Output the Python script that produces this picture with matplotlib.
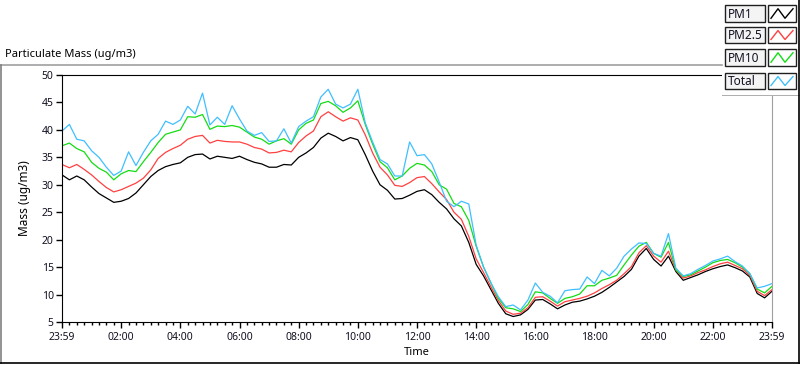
import numpy as np
import matplotlib
matplotlib.use('Agg')
from matplotlib import pyplot as plt
from matplotlib.patches import Rectangle
from matplotlib.lines import Line2D
from matplotlib.ticker import MultipleLocator

plt.rcParams['font.family'] = ['Noto Sans', 'DejaVu Sans']

series_names = ['PM1', 'PM2.5', 'PM10', 'Total']
series_colors = ['#000000', '#FF4040', '#14DC14', '#3FBFFF']

# 15 minute samples from 23:59 to 23:59 next day
hours = np.linspace(0, 24, 97)
tick_hours = [0, 2, 4, 6, 8, 10, 12, 14, 16, 18, 20, 22, 24]
tick_labels = ['23:59', '02:00', '04:00', '06:00', '08:00', '10:00', '12:00',
               '14:00', '16:00', '18:00', '20:00', '22:00', '23:59']
y_ticks = [5, 10, 15, 20, 25, 30, 35, 40, 45, 50]

pm1 = [31.8, 30.9, 31.6, 30.9, 29.6, 28.4, 27.6, 26.8, 27.0, 27.5,
       28.5, 30.0, 31.5, 32.6, 33.3, 33.7, 34.0, 35.0, 35.5, 35.6,
       34.7, 35.2, 35.0, 34.8, 35.2, 34.6, 34.1, 33.8, 33.2, 33.2,
       33.7, 33.6, 35.0, 35.8, 36.8, 38.5, 39.4, 38.8, 38.0, 38.6,
       38.2, 35.5, 32.5, 30.0, 29.0, 27.4, 27.5, 28.1, 28.8, 29.1,
       28.2, 26.8, 25.6, 23.8, 22.5, 19.5, 15.5, 13.4, 10.9, 8.4,
       6.5, 6.0, 6.3, 7.3, 9.0, 9.1, 8.3, 7.4, 8.1, 8.6,
       8.8, 9.2, 9.7, 10.4, 11.3, 12.3, 13.3, 14.6, 17.0, 18.4,
       16.4, 15.2, 17.0, 14.2, 12.6, 13.1, 13.6, 14.2, 14.7, 15.1,
       15.4, 14.9, 14.3, 13.2, 10.2, 9.4, 10.6]

pm25 = [33.7, 33.1, 33.7, 32.8, 31.8, 30.6, 29.5, 28.7, 29.1, 29.7,
        30.3, 31.2, 32.7, 34.8, 35.9, 36.6, 37.2, 38.3, 38.8, 39.0,
        37.6, 38.1, 37.9, 37.8, 37.8, 37.4, 36.8, 36.5, 35.8, 35.9,
        36.3, 36.0, 37.7, 38.9, 39.8, 42.4, 43.3, 42.4, 41.6, 42.2,
        41.8, 39.1, 35.8, 33.2, 31.8, 29.9, 29.7, 30.4, 31.3, 31.5,
        30.2, 28.7, 27.3, 25.0, 23.7, 20.6, 16.5, 14.0, 11.4, 8.9,
        7.0, 6.4, 6.6, 7.6, 9.5, 9.6, 8.8, 7.9, 8.7, 9.0,
        9.3, 9.7, 10.3, 11.1, 11.8, 12.6, 13.8, 15.1, 17.6, 18.9,
        17.0, 15.9, 17.9, 14.5, 13.0, 13.4, 14.0, 14.5, 15.1, 15.6,
        15.9, 15.3, 14.7, 13.5, 10.6, 9.8, 10.9]

pm10 = [37.1, 37.6, 36.6, 36.0, 34.1, 33.0, 32.3, 30.9, 32.0, 32.6,
        32.4, 34.2, 35.9, 37.7, 39.2, 39.6, 40.0, 42.4, 42.3, 42.8,
        40.1, 40.7, 40.6, 40.8, 40.5, 39.6, 38.7, 38.3, 37.4, 38.0,
        38.4, 37.4, 40.0, 41.2, 41.8, 44.8, 45.2, 44.4, 43.2, 44.0,
        45.3, 41.0, 37.4, 34.2, 33.1, 30.9, 31.6, 33.0, 33.9, 33.6,
        32.4, 30.0, 29.2, 26.6, 26.0, 23.5, 18.8, 15.0, 12.1, 9.3,
        7.6, 7.4, 6.9, 8.2, 10.5, 10.3, 9.3, 8.4, 9.3, 9.6,
        10.1, 11.6, 11.6, 12.6, 13.0, 13.5, 15.4, 17.2, 18.8, 19.5,
        17.5, 16.8, 19.5, 14.5, 13.3, 13.6, 14.3, 15.0, 15.8, 16.2,
        16.4, 15.8, 15.0, 13.8, 11.0, 10.3, 11.5]

total = [39.8, 41.0, 38.3, 38.0, 36.2, 35.0, 33.2, 31.7, 32.5, 36.0,
         33.5, 35.9, 38.0, 39.2, 41.6, 41.0, 41.8, 44.3, 42.9, 46.7,
         40.9, 42.3, 41.0, 44.4, 42.0, 39.8, 39.0, 39.5, 37.9, 38.0,
         40.2, 37.6, 40.6, 41.6, 42.4, 46.0, 47.4, 44.7, 44.0, 44.7,
         47.4, 41.3, 37.8, 34.6, 33.8, 31.6, 31.6, 37.8, 35.3, 35.5,
         33.8, 30.5, 27.0, 26.0, 27.0, 26.5, 19.0, 15.0, 12.1, 9.6,
         7.8, 8.1, 7.2, 9.0, 12.1, 10.4, 9.7, 8.5, 10.7, 10.9,
         11.0, 13.2, 12.0, 14.4, 13.4, 14.8, 17.0, 18.3, 19.4, 19.3,
         17.5, 17.0, 21.1, 14.8, 13.4, 13.8, 14.6, 15.3, 16.1, 16.5,
         17.0, 16.0, 15.2, 13.8, 11.2, 11.5, 12.0]

W, H = 800, 365
fig = plt.figure(figsize=(W / 100, H / 100), dpi=100)
fig.patch.set_facecolor('white')


def px_box(x0, y0, x1, y1):
    return [x0 / W, 1 - y1 / H, (x1 - x0) / W, (y1 - y0) / H]


def fig_line(x0, y0, x1, y1, color):
    fig.add_artist(Line2D([x0 / W, x1 / W], [1 - y0 / H, 1 - y1 / H],
                          color=color, lw=1.2))


ax = fig.add_axes(px_box(62, 75, 772, 322))
for vals, name, col in zip([pm1, pm25, pm10, total], series_names, series_colors):
    ax.plot(hours, vals, color=col, lw=0.9, label=name)

ax.set_xlim(0, 24)
ax.set_ylim(5, 50)
ax.set_xticks(tick_hours)
ax.set_xticklabels(tick_labels)
ax.xaxis.set_minor_locator(MultipleLocator(0.25))
ax.set_yticks(y_ticks)
ax.tick_params(axis='both', which='major', length=4, width=1, labelsize=7.5,
               pad=2, color='black', labelcolor='#111122')
ax.tick_params(axis='x', which='minor', length=2.5, width=1, color='black')
ax.tick_params(axis='x', which='major', pad=3)
for side in ['left', 'top', 'bottom']:
    ax.spines[side].set_color('black')
ax.spines['right'].set_color('#a0a0a0')

ax.set_xlabel('Time', fontsize=8, labelpad=3)
ax.set_ylabel('Mass (ug/m3)', fontsize=8.5)
ax.yaxis.set_label_coords(-0.044, 0.5)

fig.text(5 / W, 1 - 54 / H, 'Particulate Mass (ug/m3)', fontsize=8,
         va='center', ha='left')

# outer frame
fig_line(0, 64.5, 722, 64.5, '#a0a0a0')
fig_line(0.6, 64.5, 0.6, 363, '#808080')
fig_line(0, 363, 800, 363, 'black')
fig_line(798.5, 0, 798.5, 363, 'black')

# legend panel
lax = fig.add_axes(px_box(722, 0, 800, 96))
lax.set_xlim(722, 800)
lax.set_ylim(96, 0)
lax.set_xticks([])
lax.set_yticks([])
for s in lax.spines.values():
    s.set_visible(False)
lax.patch.set_facecolor('white')
lax.plot([722, 800], [95.5, 95.5], color='#a0a0a0', lw=1.2)
lax.plot([772, 772], [95.5, 96], color='#a0a0a0', lw=1.2)

rows = [(5, 22), (27, 43), (49, 66), (73, 89)]
for (y0, y1), name, col in zip(rows, series_names, series_colors):
    lax.add_patch(Rectangle((725, y0), 40, y1 - y0, facecolor='#f4f4f4',
                            edgecolor='#202020', lw=1))
    lax.add_patch(Rectangle((768, y0), 28, y1 - y0, facecolor='white',
                            edgecolor='#202020', lw=1))
    lax.text(727.5, (y0 + y1) / 2 + 0.5, name, fontsize=8.5, va='center',
             ha='left', color='#111122')
    ym, h = (y0 + y1) / 2, (y1 - y0)
    lax.plot([771, 778, 785, 793],
             [ym + 0.28 * h, ym - 0.28 * h, ym + 0.28 * h, ym - 0.28 * h],
             color=col, lw=1.0)

fig.savefig('out.png', dpi=100)
